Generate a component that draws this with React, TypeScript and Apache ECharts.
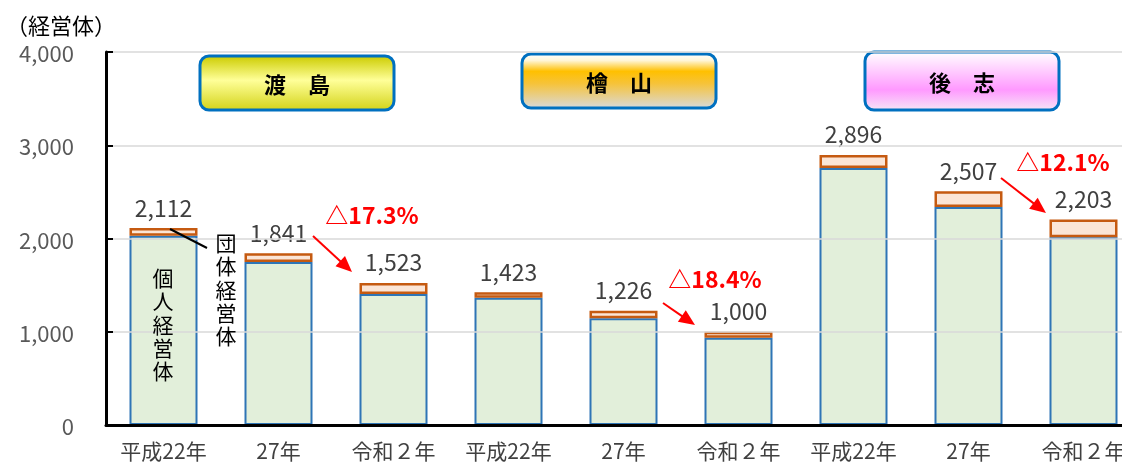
import React, { useEffect, useRef } from "react";
import * as echarts from "echarts";

const CATEGORIES = ["平成22年", "27年", "令和２年", "平成22年", "27年", "令和２年", "平成22年", "27年", "令和２年"];
const TOTALS = [2112, 1841, 1523, 1423, 1226, 1000, 2896, 2507, 2203];
const GROUP = [82, 93, 118, 58, 82, 64, 140, 170, 190];
const INDIVIDUAL = TOTALS.map((t, i) => t - GROUP[i]);
const Y_TICKS = [0, 1000, 2000, 3000, 4000];
const REGIONS = ["渡　島", "檜　山", "後　志"];
const CHANGES = ["△17.3%", "△18.4%", "△12.1%"];
const LABEL_INDIVIDUAL = "個人経営体";
const LABEL_GROUP = "団体経営体";

const JP_FONT = "'Noto Sans CJK JP', sans-serif";

function arrow(x1: number, y1: number, x2: number, y2: number) {
  const dx = x2 - x1;
  const dy = y2 - y1;
  const len = Math.sqrt(dx * dx + dy * dy);
  const ux = dx / len;
  const uy = dy / len;
  const hl = 16;
  const hw = 7;
  const bx = x2 - ux * hl;
  const by = y2 - uy * hl;
  return [
    { type: "line", shape: { x1, y1, x2: bx + ux * 2, y2: by + uy * 2 }, style: { stroke: "#FF0000", lineWidth: 2 }, z: 10 },
    {
      type: "polygon",
      shape: { points: [[x2, y2], [bx - uy * hw, by + ux * hw], [bx + uy * hw, by - ux * hw]] },
      style: { fill: "#FF0000" },
      z: 10,
    },
  ];
}

function regionBox(x: number, y: number, w: number, h: number, text: string, stops: any[]) {
  return {
    type: "group",
    z: 10,
    children: [
      {
        type: "rect",
        shape: { x, y, width: w, height: h, r: 9 },
        style: {
          fill: new echarts.graphic.LinearGradient(0, 0, 0, 1, stops),
          stroke: "#0070C0",
          lineWidth: 3,
        },
      },
      {
        type: "text",
        x: x + w / 2,
        y: y + h / 2,
        style: {
          text,
          fill: "#000",
          font: `bold 22px ${JP_FONT}`,
          align: "center",
          verticalAlign: "middle",
        },
      },
    ],
  };
}

function verticalText(label: string, cx: number, top: number, step: number) {
  return label.split("").map((ch, i) => ({
    type: "text",
    x: cx,
    y: top + i * step + step / 2,
    z: 10,
    style: {
      text: ch,
      fill: "#000",
      fontSize: 21,
      fontFamily: JP_FONT,
      lineHeight: 22,
      align: "center",
      verticalAlign: "middle",
    },
  }));
}

export default function App() {
  const ref = useRef<HTMLDivElement>(null);
  useEffect(() => {
    if (!ref.current) return;
    const chart = echarts.init(ref.current, null, { renderer: "svg" });
    const redText = (text: string, x: number, y: number) => ({
      type: "text",
      x,
      y,
      z: 10,
      style: { text, fill: "#FF0000", font: `bold 23px ${JP_FONT}`, align: "center", verticalAlign: "middle" },
    });
    const graphics: any[] = [
      {
        type: "text",
        x: 6,
        y: 24,
        style: { text: "（経営体）", fill: "#000", font: `22px ${JP_FONT}`, verticalAlign: "middle" },
      },
      regionBox(200, 56, 194, 54, REGIONS[0], [
        { offset: 0, color: "#CCCC00" },
        { offset: 0.45, color: "#FFFF99" },
        { offset: 1, color: "#D4D41A" },
      ]),
      regionBox(522, 54, 194, 54, REGIONS[1], [
        { offset: 0, color: "#FFFFFF" },
        { offset: 0.12, color: "#FFF6D8" },
        { offset: 0.32, color: "#FFC000" },
        { offset: 0.55, color: "#F6C33A" },
        { offset: 1, color: "#D9D9D9" },
      ]),
      regionBox(865, 52, 194, 58, REGIONS[2], [
        { offset: 0, color: "#FFFFFF" },
        { offset: 0.65, color: "#FF99FF" },
        { offset: 1, color: "#F6E4F6" },
      ]),
      ...verticalText(LABEL_INDIVIDUAL, 163, 265, 23.4),
      ...verticalText(LABEL_GROUP, 226, 230, 23.4),
      { type: "line", z: 10, shape: { x1: 170, y1: 229, x2: 207, y2: 248 }, style: { stroke: "#000", lineWidth: 2 } },
      redText(CHANGES[0], 372, 214),
      redText(CHANGES[1], 715, 278),
      redText(CHANGES[2], 1063, 161),
      ...arrow(313, 236, 352, 272),
      ...arrow(663, 303, 695, 325),
      ...arrow(1001, 178, 1046, 213),
    ];

    chart.setOption({
      animation: false,
      grid: { left: 106, top: 52, right: 0, bottom: 40 },
      xAxis: {
        type: "category",
        data: CATEGORIES,
        axisLine: { lineStyle: { color: "#000", width: 3 } },
        axisTick: { show: false },
        axisLabel: { color: "#404040", fontSize: 21, fontFamily: JP_FONT, margin: 14, interval: 0 },
        z: 5,
      },
      yAxis: {
        type: "value",
        min: Y_TICKS[0],
        max: Y_TICKS[Y_TICKS.length - 1],
        interval: 1000,
        axisLine: { show: true, lineStyle: { color: "#000", width: 3 } },
        axisTick: { show: true, inside: true, length: 7, lineStyle: { color: "#000", width: 2 } },
        axisLabel: {
          color: "#595959",
          fontSize: 22,
          fontFamily: JP_FONT,
          margin: 32,
          formatter: (v: number) => v.toLocaleString("en-US"),
        },
        splitLine: { lineStyle: { color: "#D9D9D9", width: 1.5 } },
        z: 5,
      },
      series: [
        {
          name: LABEL_INDIVIDUAL,
          type: "bar",
          stack: "total",
          data: INDIVIDUAL,
          barWidth: 68,
          itemStyle: { color: "#E2EFDA", borderColor: "#2E75B6", borderWidth: 2 },
        },
        {
          name: LABEL_GROUP,
          type: "bar",
          stack: "total",
          data: GROUP,
          barWidth: 68,
          itemStyle: { color: "#FBE5D6", borderColor: "#C55A11", borderWidth: 2.5 },
          label: {
            show: true,
            position: "top",
            distance: 10,
            color: "#404040",
            fontSize: 23,
            fontFamily: JP_FONT,
            formatter: (p: any) => TOTALS[p.dataIndex].toLocaleString("en-US"),
          },
        },
      ],
      graphic: graphics,
    });
    return () => chart.dispose();
  }, []);
  return (
    <div style={{ position: "fixed", left: 0, top: 0, width: 1122, height: 465, overflow: "hidden" }}>
      <div ref={ref} style={{ position: "absolute", left: 0, top: 0, width: 1141, height: 465 }} />
    </div>
  );
}
